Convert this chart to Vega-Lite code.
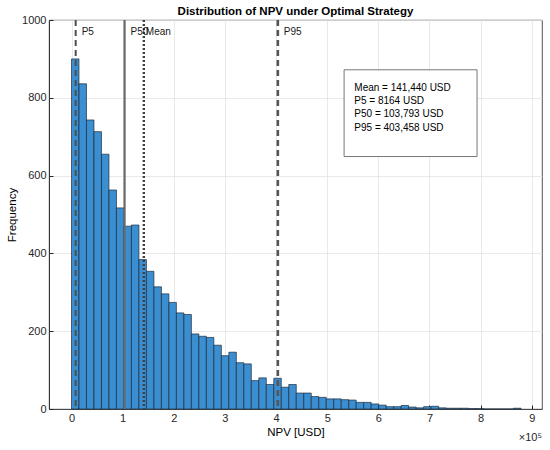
{
  "$schema": "https://vega.github.io/schema/vega-lite/v6.json",
  "width": 493,
  "height": 389,
  "autosize": {"type": "none"},
  "padding": {"left": 49, "top": 20, "right": 8, "bottom": 41},
  "title": {
    "text": "Distribution of NPV under Optimal Strategy",
    "fontSize": 11.5,
    "fontWeight": "bold",
    "color": "#000000",
    "anchor": "middle",
    "offset": -3
  },
  "datasets": {
    "bins": [
      {"bin_start": 0, "bin_end": 14650, "count": 900},
      {"bin_start": 14650, "bin_end": 29300, "count": 836},
      {"bin_start": 29300, "bin_end": 43950, "count": 743},
      {"bin_start": 43950, "bin_end": 58600, "count": 713},
      {"bin_start": 58600, "bin_end": 73250, "count": 655},
      {"bin_start": 73250, "bin_end": 87900, "count": 563},
      {"bin_start": 87900, "bin_end": 102550, "count": 517},
      {"bin_start": 102550, "bin_end": 117200, "count": 470},
      {"bin_start": 117200, "bin_end": 131850, "count": 473},
      {"bin_start": 131850, "bin_end": 146500, "count": 384},
      {"bin_start": 146500, "bin_end": 161150, "count": 354},
      {"bin_start": 161150, "bin_end": 175800, "count": 314},
      {"bin_start": 175800, "bin_end": 190450, "count": 296},
      {"bin_start": 190450, "bin_end": 205100, "count": 274},
      {"bin_start": 205100, "bin_end": 219750, "count": 247},
      {"bin_start": 219750, "bin_end": 234400, "count": 243},
      {"bin_start": 234400, "bin_end": 249050, "count": 193},
      {"bin_start": 249050, "bin_end": 263700, "count": 187},
      {"bin_start": 263700, "bin_end": 278350, "count": 184},
      {"bin_start": 278350, "bin_end": 293000, "count": 164},
      {"bin_start": 293000, "bin_end": 307650, "count": 137},
      {"bin_start": 307650, "bin_end": 322300, "count": 146},
      {"bin_start": 322300, "bin_end": 336950, "count": 119},
      {"bin_start": 336950, "bin_end": 351600, "count": 116},
      {"bin_start": 351600, "bin_end": 366250, "count": 73},
      {"bin_start": 366250, "bin_end": 380900, "count": 80},
      {"bin_start": 380900, "bin_end": 395550, "count": 63},
      {"bin_start": 395550, "bin_end": 410200, "count": 79},
      {"bin_start": 410200, "bin_end": 424850, "count": 56},
      {"bin_start": 424850, "bin_end": 439500, "count": 63},
      {"bin_start": 439500, "bin_end": 454150, "count": 41},
      {"bin_start": 454150, "bin_end": 468800, "count": 41},
      {"bin_start": 468800, "bin_end": 483450, "count": 32},
      {"bin_start": 483450, "bin_end": 498100, "count": 30},
      {"bin_start": 498100, "bin_end": 512750, "count": 26},
      {"bin_start": 512750, "bin_end": 527400, "count": 26},
      {"bin_start": 527400, "bin_end": 542050, "count": 24},
      {"bin_start": 542050, "bin_end": 556700, "count": 23},
      {"bin_start": 556700, "bin_end": 571350, "count": 17},
      {"bin_start": 571350, "bin_end": 586000, "count": 17},
      {"bin_start": 586000, "bin_end": 600650, "count": 13},
      {"bin_start": 600650, "bin_end": 615300, "count": 10},
      {"bin_start": 615300, "bin_end": 629950, "count": 6},
      {"bin_start": 629950, "bin_end": 644600, "count": 6},
      {"bin_start": 644600, "bin_end": 659250, "count": 9},
      {"bin_start": 659250, "bin_end": 673900, "count": 5},
      {"bin_start": 673900, "bin_end": 688550, "count": 3},
      {"bin_start": 688550, "bin_end": 703200, "count": 6},
      {"bin_start": 703200, "bin_end": 717850, "count": 7},
      {"bin_start": 717850, "bin_end": 732500, "count": 3},
      {"bin_start": 732500, "bin_end": 747150, "count": 2},
      {"bin_start": 747150, "bin_end": 761800, "count": 2},
      {"bin_start": 761800, "bin_end": 776450, "count": 2},
      {"bin_start": 776450, "bin_end": 791100, "count": 1},
      {"bin_start": 791100, "bin_end": 805750, "count": 1},
      {"bin_start": 805750, "bin_end": 820400, "count": 0},
      {"bin_start": 820400, "bin_end": 835050, "count": 0},
      {"bin_start": 835050, "bin_end": 849700, "count": 0},
      {"bin_start": 849700, "bin_end": 864350, "count": 0},
      {"bin_start": 864350, "bin_end": 879000, "count": 2}
    ],
    "stats": [
      {"stat": "P5", "value": 8164},
      {"stat": "P50", "value": 103793},
      {"stat": "Mean", "value": 141440},
      {"stat": "P95", "value": 403458}
    ],
    "single": [{}]
  },
  "layer": [
    {
      "data": {"name": "bins"},
      "mark": {
        "type": "rect",
        "fill": "#3b8ed0",
        "stroke": "#1a2a3a",
        "strokeWidth": 0.8,
        "strokeOpacity": 0.85
      },
      "encoding": {
        "x": {
          "field": "bin_start",
          "type": "quantitative",
          "scale": {"domain": [-44000, 920000], "nice": false, "zero": false},
          "axis": {
            "values": [0, 100000, 200000, 300000, 400000, 500000, 600000, 700000, 800000, 900000],
            "labelExpr": "datum.value / 100000",
            "title": "NPV [USD]"
          }
        },
        "x2": {"field": "bin_end"},
        "y": {
          "field": "count",
          "type": "quantitative",
          "scale": {"domain": [0, 1000], "nice": false},
          "axis": {
            "values": [0, 100, 200, 300, 400, 500, 600, 700, 800, 900, 1000],
            "format": "d",
            "title": "Frequency"
          }
        },
        "y2": {"datum": 0}
      }
    },
    {
      "data": {"name": "stats"},
      "mark": {"type": "rule"},
      "encoding": {
        "x": {"field": "value", "type": "quantitative"},
        "color": {
          "field": "stat",
          "type": "nominal",
          "scale": {"domain": ["P5", "P50", "Mean", "P95"], "range": ["#4d4d4d", "#6b6b6b", "#404040", "#555555"]},
          "legend": null
        },
        "strokeDash": {
          "field": "stat",
          "type": "nominal",
          "scale": {"domain": ["P5", "P50", "Mean", "P95"], "range": [[6, 4], [1, 0], [2, 2], [6, 4]]},
          "legend": null
        },
        "strokeWidth": {
          "field": "stat",
          "type": "nominal",
          "scale": {"domain": ["P5", "P50", "Mean", "P95"], "range": [2, 2.6, 2, 2]},
          "legend": null
        }
      }
    },
    {
      "data": {"name": "stats"},
      "transform": [{"filter": "datum.stat != 'Mean'"}],
      "mark": {"type": "text", "align": "left", "baseline": "middle", "dx": 6, "fontSize": 10, "color": "#1a1a1a"},
      "encoding": {
        "x": {"field": "value", "type": "quantitative"},
        "y": {"datum": 970},
        "text": {"field": "stat"}
      }
    },
    {
      "data": {"name": "stats"},
      "transform": [{"filter": "datum.stat == 'Mean'"}],
      "mark": {"type": "text", "align": "left", "baseline": "middle", "dx": 2, "fontSize": 10, "color": "#1a1a1a"},
      "encoding": {
        "x": {"field": "value", "type": "quantitative"},
        "y": {"datum": 970},
        "text": {"field": "stat"}
      }
    },
    {
      "data": {"name": "single"},
      "mark": {"type": "rect", "fill": "#ffffff", "stroke": "#555555", "strokeWidth": 0.8},
      "encoding": {
        "x": {"datum": 533000},
        "x2": {"datum": 793000},
        "y": {"datum": 872},
        "y2": {"datum": 649}
      }
    },
    {
      "data": {"name": "single"},
      "mark": {
        "type": "text",
        "align": "left",
        "baseline": "middle",
        "fontSize": 10,
        "lineHeight": 13.3,
        "color": "#000000"
      },
      "encoding": {
        "x": {"datum": 553000},
        "y": {"datum": 826},
        "text": {"value": ["Mean = 141,440 USD", "P5 = 8164 USD", "P50 = 103,793 USD", "P95 = 403,458 USD"]}
      }
    },
    {
      "data": {"name": "single"},
      "mark": {"type": "text", "align": "right", "baseline": "middle", "dy": 29, "fontSize": 11, "color": "#262626"},
      "encoding": {
        "x": {"datum": 920000},
        "y": {"datum": 0},
        "text": {"value": "×10⁵"}
      }
    }
  ],
  "config": {
    "font": "Liberation Sans",
    "view": {"stroke": "#262626", "strokeWidth": 0.8},
    "axis": {
      "grid": true,
      "gridColor": "#e3e3e3",
      "gridWidth": 0.8,
      "domainColor": "#262626",
      "domainWidth": 0.8,
      "tickColor": "#262626",
      "tickSize": -4,
      "labelPadding": 7,
      "labelFontSize": 11,
      "labelColor": "#262626",
      "titleFontSize": 11.5,
      "titleFontWeight": "normal",
      "titleColor": "#000000"
    },
    "axisX": {"titlePadding": 3},
    "axisY": {"titlePadding": 4}
  }
}
